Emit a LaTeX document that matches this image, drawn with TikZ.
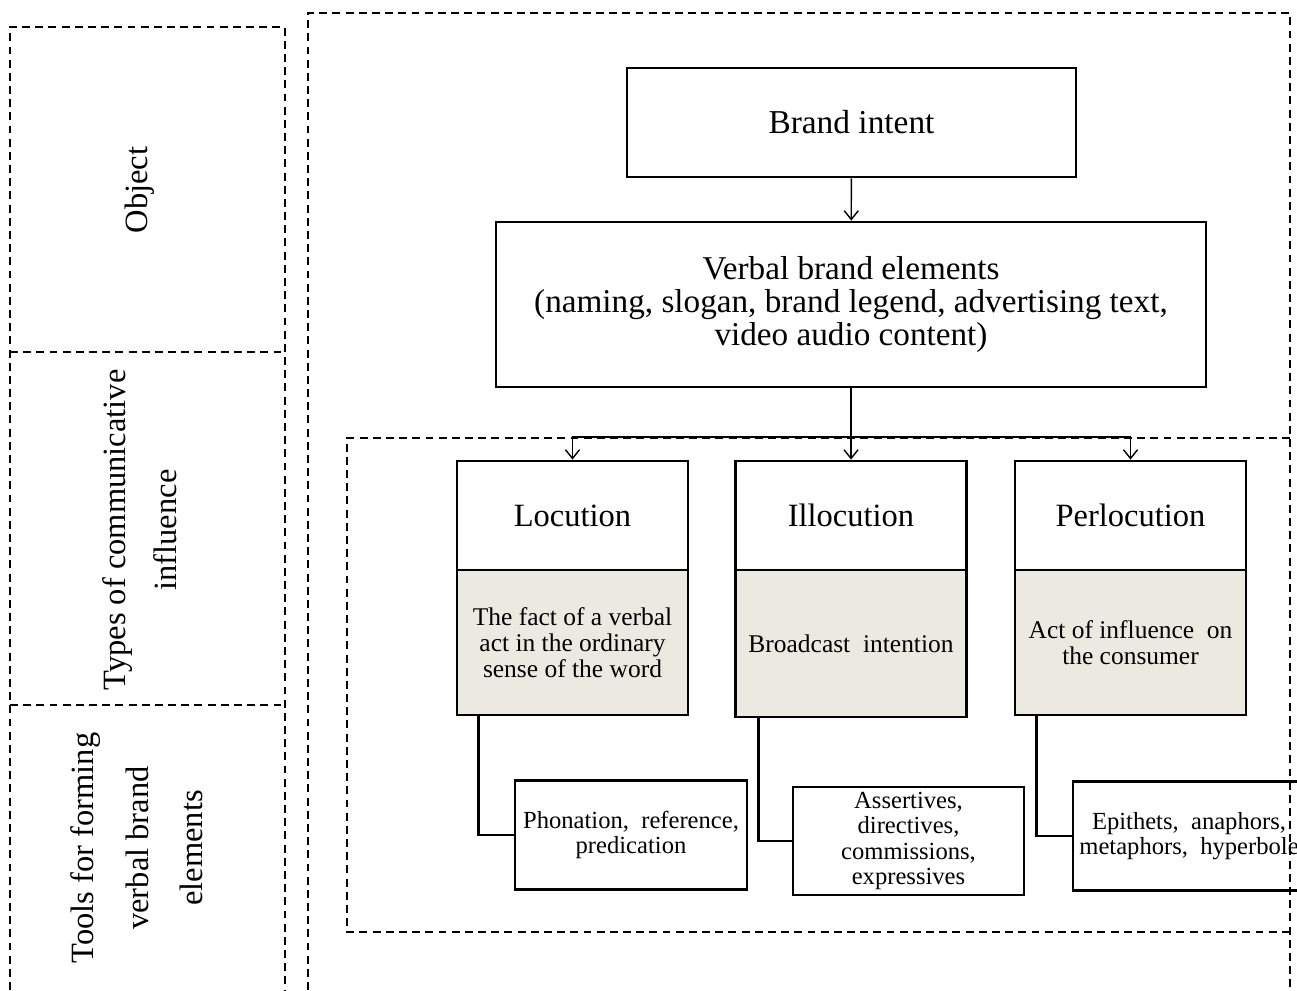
\documentclass[tikz,border=0pt]{standalone}
\usepackage{fontspec}
\setmainfont{Liberation Serif}
\usetikzlibrary{arrows.meta}
\definecolor{fond}{RGB}{236,234,224}
\tikzstyle{cadre} = [rectangle, draw=black, line width=1.6pt, align=center, inner sep=0pt]
\tikzstyle{entete} = [cadre, minimum width=4.62cm, minimum height=2.18cm, font=\fontsize{18.5}{20}\selectfont]
\tikzstyle{corps} = [cadre, fill=fond, minimum width=4.62cm, minimum height=2.9cm, font=\fontsize{14.5}{14.6}\selectfont]
\tikzstyle{outil} = [cadre, minimum width=4.64cm, minimum height=2.18cm, font=\fontsize{14}{14.4}\selectfont]
\tikzstyle{zone} = [line width=0.8pt, dash pattern=on 4.5pt off 3pt]
\tikzstyle{fleche} = [line width=0.8pt, -{Straight Barb[length=5pt,width=8pt]}]
\tikzstyle{rubrique} = [rotate=90, align=center]

\begin{document}
\begin{tikzpicture}[x=0.02cm, y=-0.02cm]
        \useasboundingbox (0,0) rectangle (1297,990);

        % dashed frames
        \draw[zone] (10,990) -- (10,27) -- (285,27) -- (285,990);
        \draw[zone] (10,352) -- (285,352);
        \draw[zone] (10,705) -- (285,705);
        \draw[zone] (308,990) -- (308,13) -- (1290,13) -- (1290,990);
        \draw[zone] (1290,438) -- (347,438) -- (347,932) -- (1290,932);

        \node (r1) [rubrique, font=\fontsize{18.5}{29}\selectfont] at (140,190) {Object};
        \node (r2) [rubrique, font=\fontsize{18.5}{29}\selectfont] at (140,530) {Types of communicative\\influence};
        \node (r3) [rubrique, font=\fontsize{18.5}{31}\selectfont] at (137,848) {Tools for forming\\verbal brand\\elements};

        \node (intent) [cadre, minimum width=8.98cm, minimum height=2.18cm, font=\fontsize{19}{20}\selectfont] at (851.5,122.5) {Brand intent};
        \node (verbal) [cadre, minimum width=14.2cm, minimum height=3.3cm, font=\fontsize{18.9}{19}\selectfont] at (851,304.5) {Verbal brand elements\\(naming, slogan, brand legend, advertising text,\\video audio content)};

        \node (loct) [entete] at (572.5,515.5) {Locution};
        \node (illt) [entete] at (851,515.5) {Illocution};
        \node (pert) [entete] at (1130.5,515.5) {Perlocution};
        \node (locb) [corps] at (572.5,642.5) {The fact of a verbal\\act in the ordinary\\sense of the word};
        \node (illb) [corps, minimum height=2.94cm] at (851,643.5) {Broadcast~ intention};
        \node (perb) [corps] at (1130.5,642.5) {Act of influence~ on\\the consumer};

        \node (phon) [outil] at (631,835) {Phonation,~ reference,\\predication};
        \node (asse) [outil, minimum width=4.62cm, minimum height=2.16cm] at (908.5,841) {Assertives,\\directives,\\commissions,\\expressives};
        \node (epit) [outil] at (1189,836) {Epithets,~ anaphors,\\metaphors,~ hyperbole};

        \coordinate (split) at (851,437);
        \draw[fleche] (intent) -- (verbal);
        \draw[fleche] (verbal) -- (illt);
        \draw[fleche] (split) -| (loct.north);
        \draw[fleche] (split) -| (pert.north);

        \draw[line width=1.6pt] ([xshift=0.46cm]locb.south west) |- (phon.west);
        \draw[line width=1.6pt] ([xshift=0.48cm]illb.south west) |- (asse.west);
        \draw[line width=1.6pt] ([xshift=0.46cm]perb.south west) |- (epit.west);
    \end{tikzpicture}
\end{document}
